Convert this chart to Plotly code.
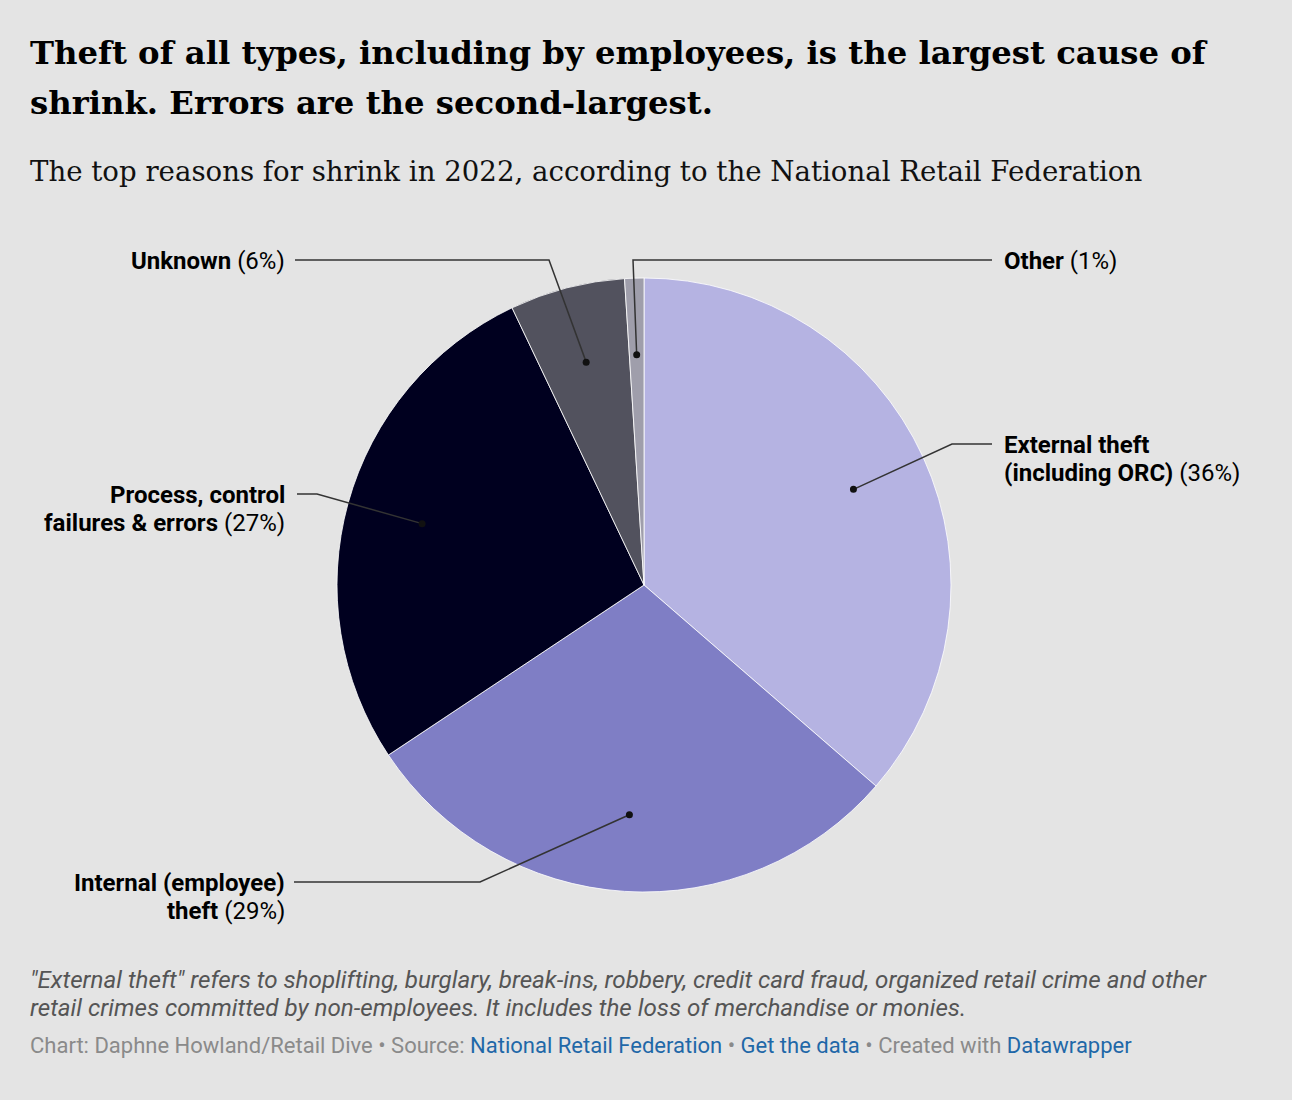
import math
import plotly.graph_objects as go

# --------------------------------------------------
# Data
# --------------------------------------------------
categories = [
    "External theft (including ORC)",
    "Internal (employee) theft",
    "Process, control failures & errors",
    "Unknown",
    "Other",
]
values = [36, 29, 27, 6, 1]
colors = ["#b5b3e2", "#7f7ec5", "#00001f", "#52525e", "#9f9eab"]

# label text, one entry per printed line
label_lines = [
    ["External theft", "(including ORC)"],
    ["Internal (employee)", "theft"],
    ["Process, control", "failures & errors"],
    ["Unknown"],
    ["Other"],
]

# --------------------------------------------------
# Layout geometry (pixels, y down)
# --------------------------------------------------
W, H = 1292, 1100
CX, CY, R = 644, 585, 307
BG = "#e4e4e4"
LINE_H = 28

# elbow point, end of leader, label x, label side
leaders = [
    ((952, 444), (992, 444), 1002, "left"),
    ((480, 882), (294, 882), 287, "right"),
    ((317, 494), (297, 494), 287, "right"),
    ((549, 260), (295, 260), 287, "right"),
    ((633, 260), (992, 260), 1002, "left"),
]

fig = go.Figure()

fig.add_trace(
    go.Pie(
        labels=categories,
        values=values,
        sort=False,
        direction="clockwise",
        rotation=0,
        marker=dict(colors=colors, line=dict(color="rgba(255,255,255,0.8)", width=1)),
        textinfo="none",
        hoverinfo="label+percent",
        showlegend=False,
        domain=dict(x=[(CX - R) / W, (CX + R) / W], y=[1 - (CY + R) / H, 1 - (CY - R) / H]),
    )
)

total = sum(values)
cum = 0
for i, v in enumerate(values):
    theta = 2 * math.pi * (cum + v / 2) / total
    cum += v
    dx = CX + 0.75 * R * math.sin(theta)
    dy = CY - 0.75 * R * math.cos(theta)
    (ex, ey), (tx, ty), lx, side = leaders[i]

    # shapes sit above the pie layer, traces would be hidden under it
    fig.add_shape(
        type="path", xref="x", yref="y", layer="above",
        path=f"M {dx},{dy} L {ex},{ey} L {tx},{ty}",
        line=dict(color="#333333", width=1.5),
    )
    fig.add_shape(
        type="circle", xref="x", yref="y", layer="above",
        x0=dx - 3.5, x1=dx + 3.5, y0=dy - 3.5, y1=dy + 3.5,
        fillcolor="#111111", line=dict(width=0),
    )

    lines = label_lines[i]
    for k, txt in enumerate(lines):
        text = f"<b>{txt}</b>"
        if k == len(lines) - 1:
            text += f" ({v}%)"
        fig.add_annotation(
            x=lx, y=ty + 1 + k * LINE_H, xref="x", yref="y",
            text=text, xanchor=side, yanchor="middle", align=side,
            showarrow=False,
            font=dict(family="Roboto", size=24, color="#000000"),
        )

# --------------------------------------------------
# Titles and notes
# --------------------------------------------------
title_lines = [
    "Theft of all types, including by employees, is the largest cause of",
    "shrink. Errors are the second-largest.",
]
for k, txt in enumerate(title_lines):
    fig.add_annotation(
        x=28, y=53 + k * 50, xref="x", yref="y", xanchor="left", yanchor="middle",
        showarrow=False, text=f"<b>{txt}</b>",
        font=dict(family="DejaVu Serif", size=32.3, color="#000000"),
    )

fig.add_annotation(
    x=28, y=171, xref="x", yref="y", xanchor="left", yanchor="middle",
    showarrow=False,
    text="The top reasons for shrink in 2022, according to the National Retail Federation",
    font=dict(family="DejaVu Serif", size=27.6, color="#111111"),
)

note_lines = [
    "\"External theft\" refers to shoplifting, burglary, break-ins, robbery, credit card fraud, "
    "organized retail crime and other",
    "retail crimes committed by non-employees. It includes the loss of merchandise or monies.",
]
for k, txt in enumerate(note_lines):
    fig.add_annotation(
        x=28, y=980 + k * LINE_H, xref="x", yref="y", xanchor="left", yanchor="middle",
        showarrow=False, text=f"<i>{txt}</i>",
        font=dict(family="Roboto", size=24.2, color="#555555"),
    )

link = "color:#1f68a8"
fig.add_annotation(
    x=28, y=1045, xref="x", yref="y", xanchor="left", yanchor="middle",
    showarrow=False,
    text="Chart: Daphne Howland/Retail Dive • Source: "
         f"<span style='{link}'>National Retail Federation</span> • "
         f"<span style='{link}'>Get the data</span> • Created with "
         f"<span style='{link}'>Datawrapper</span>",
    font=dict(family="Roboto", size=22, color="#8a8a8a"),
)

fig.update_xaxes(range=[0, W], visible=False, fixedrange=True)
fig.update_yaxes(range=[H, 0], visible=False, fixedrange=True)

fig.update_layout(
    width=W,
    height=H,
    margin=dict(l=0, r=0, t=0, b=0),
    paper_bgcolor=BG,
    plot_bgcolor="rgba(0,0,0,0)",
)

fig.write_html(
    "out.html",
    config=dict(displayModeBar=False),
    post_script="document.body.style.margin='0';document.body.style.background='#e4e4e4';",
)
